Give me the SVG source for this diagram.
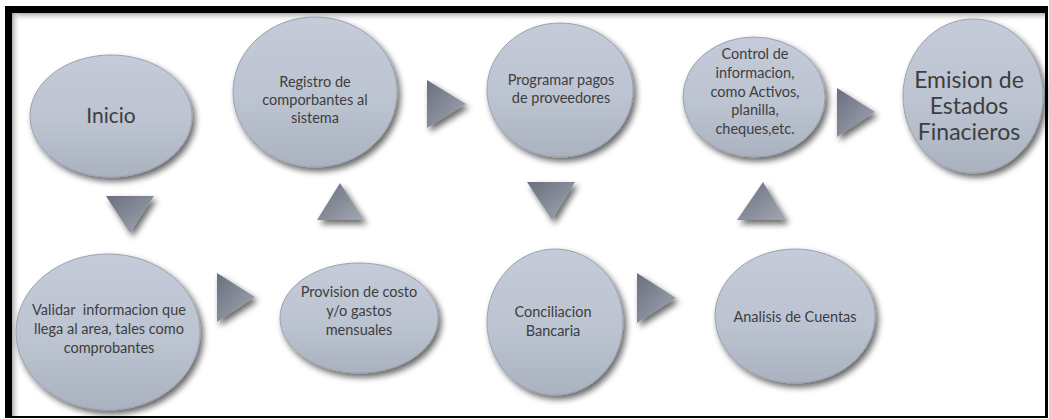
<svg xmlns="http://www.w3.org/2000/svg" width="1049" height="419" viewBox="0 0 1049 419">
<defs>
<linearGradient id="gE" x1="0" y1="0" x2="0" y2="1">
<stop offset="0" stop-color="#c5cbd8"/>
<stop offset="0.55" stop-color="#bcc3d1"/>
<stop offset="1" stop-color="#aab1bf"/>
</linearGradient>
<linearGradient id="gT" x1="0" y1="0" x2="1" y2="1">
<stop offset="0" stop-color="#6a6f7e"/>
<stop offset="1" stop-color="#a2a7b3"/>
</linearGradient>
<linearGradient id="gTop" x1="0" y1="0" x2="0" y2="1">
<stop offset="0" stop-color="#9a9a9a" stop-opacity="0.8"/>
<stop offset="1" stop-color="#ffffff" stop-opacity="0"/>
</linearGradient>
<linearGradient id="gLeft" x1="0" y1="0" x2="1" y2="0">
<stop offset="0" stop-color="#9a9a9a" stop-opacity="0.8"/>
<stop offset="1" stop-color="#ffffff" stop-opacity="0"/>
</linearGradient>
<filter id="sh" x="-20%" y="-20%" width="150%" height="150%">
<feGaussianBlur in="SourceAlpha" stdDeviation="3"/>
<feOffset dx="3" dy="4" result="b"/>
<feComponentTransfer><feFuncA type="linear" slope="0.6"/></feComponentTransfer>
<feMerge><feMergeNode/><feMergeNode in="SourceGraphic"/></feMerge>
</filter>
</defs>
<style>
.n{fill:url(#gE);stroke:#9aa1b0;stroke-width:1;filter:url(#sh)}
.a{fill:url(#gT);filter:url(#sh)}
text{font-family:Lato,"Liberation Sans",sans-serif;fill:#3e3e3e;text-anchor:middle}
.s{font-size:14.5px}
.b{font-size:23px}
.i{font-size:21px}
</style>
<rect x="0" y="0" width="1049" height="419" fill="#ffffff"/>
<rect x="5" y="6" width="1043" height="412" fill="#000000"/>
<rect x="12" y="13" width="1033" height="403" fill="#ffffff"/>
<rect x="12" y="13" width="1033" height="9" fill="url(#gTop)"/>
<rect x="12" y="13" width="9" height="403" fill="url(#gLeft)"/>

<g id="connectors">
<polygon class="a" points="106,196 154,196 130,233"/>
<polygon class="a" points="217,273 217,322 255,297"/>
<polygon class="a" points="317,220 364,220 340,183"/>
<polygon class="a" points="427,80 427,128 466,104"/>
<polygon class="a" points="527,182 575,182 552,220"/>
<polygon class="a" points="637,273 637,323 676,298"/>
<polygon class="a" points="737,220 786,220 763,182"/>
<polygon class="a" points="837,88 837,137 875,112"/>
</g>

<g id="inicio">
<ellipse class="n" cx="111" cy="116" rx="81" ry="61"/>
<text class="i" x="111" y="123">Inicio</text>
</g>
<g id="registro">
<ellipse class="n" cx="315" cy="92" rx="82" ry="75"/>
<text class="s" x="315" y="87">Registro de</text>
<text class="s" x="315" y="105">comporbantes al</text>
<text class="s" x="315" y="123">sistema</text>
</g>
<g id="programar">
<ellipse class="n" cx="560" cy="90" rx="73" ry="67"/>
<text class="s" x="561" y="85">Programar pagos</text>
<text class="s" x="561" y="103">de proveedores</text>
</g>
<g id="control">
<ellipse class="n" cx="754" cy="97" rx="71" ry="60"/>
<text class="s" x="755" y="59">Control de</text>
<text class="s" x="755" y="78">informacion,</text>
<text class="s" x="755" y="97">como Activos,</text>
<text class="s" x="755" y="115">planilla,</text>
<text class="s" x="755" y="134">cheques,etc.</text>
</g>
<g id="emision">
<ellipse class="n" cx="973" cy="96" rx="70" ry="77"/>
<text class="b" x="969" y="88">Emision de</text>
<text class="b" x="969" y="114">Estados</text>
<text class="b" x="969" y="140">Finacieros</text>
</g>
<g id="validar">
<ellipse class="n" cx="108" cy="332" rx="92" ry="78"/>
<text class="s" x="109" y="315" xml:space="preserve">Validar  informacion que</text>
<text class="s" x="109" y="334">llega al area, tales como</text>
<text class="s" x="109" y="353">comprobantes</text>
</g>
<g id="provision">
<ellipse class="n" cx="359" cy="318" rx="79" ry="55"/>
<text class="s" x="359" y="297">Provision de costo</text>
<text class="s" x="359" y="316">y/o gastos</text>
<text class="s" x="359" y="335">mensuales</text>
</g>
<g id="conciliacion">
<ellipse class="n" cx="555" cy="322" rx="68" ry="73"/>
<text class="s" x="553" y="317">Conciliacion</text>
<text class="s" x="553" y="336">Bancaria</text>
</g>
<g id="analisis">
<ellipse class="n" cx="795" cy="316" rx="80" ry="67"/>
<text class="s" x="795" y="322">Analisis de Cuentas</text>
</g>
</svg>
